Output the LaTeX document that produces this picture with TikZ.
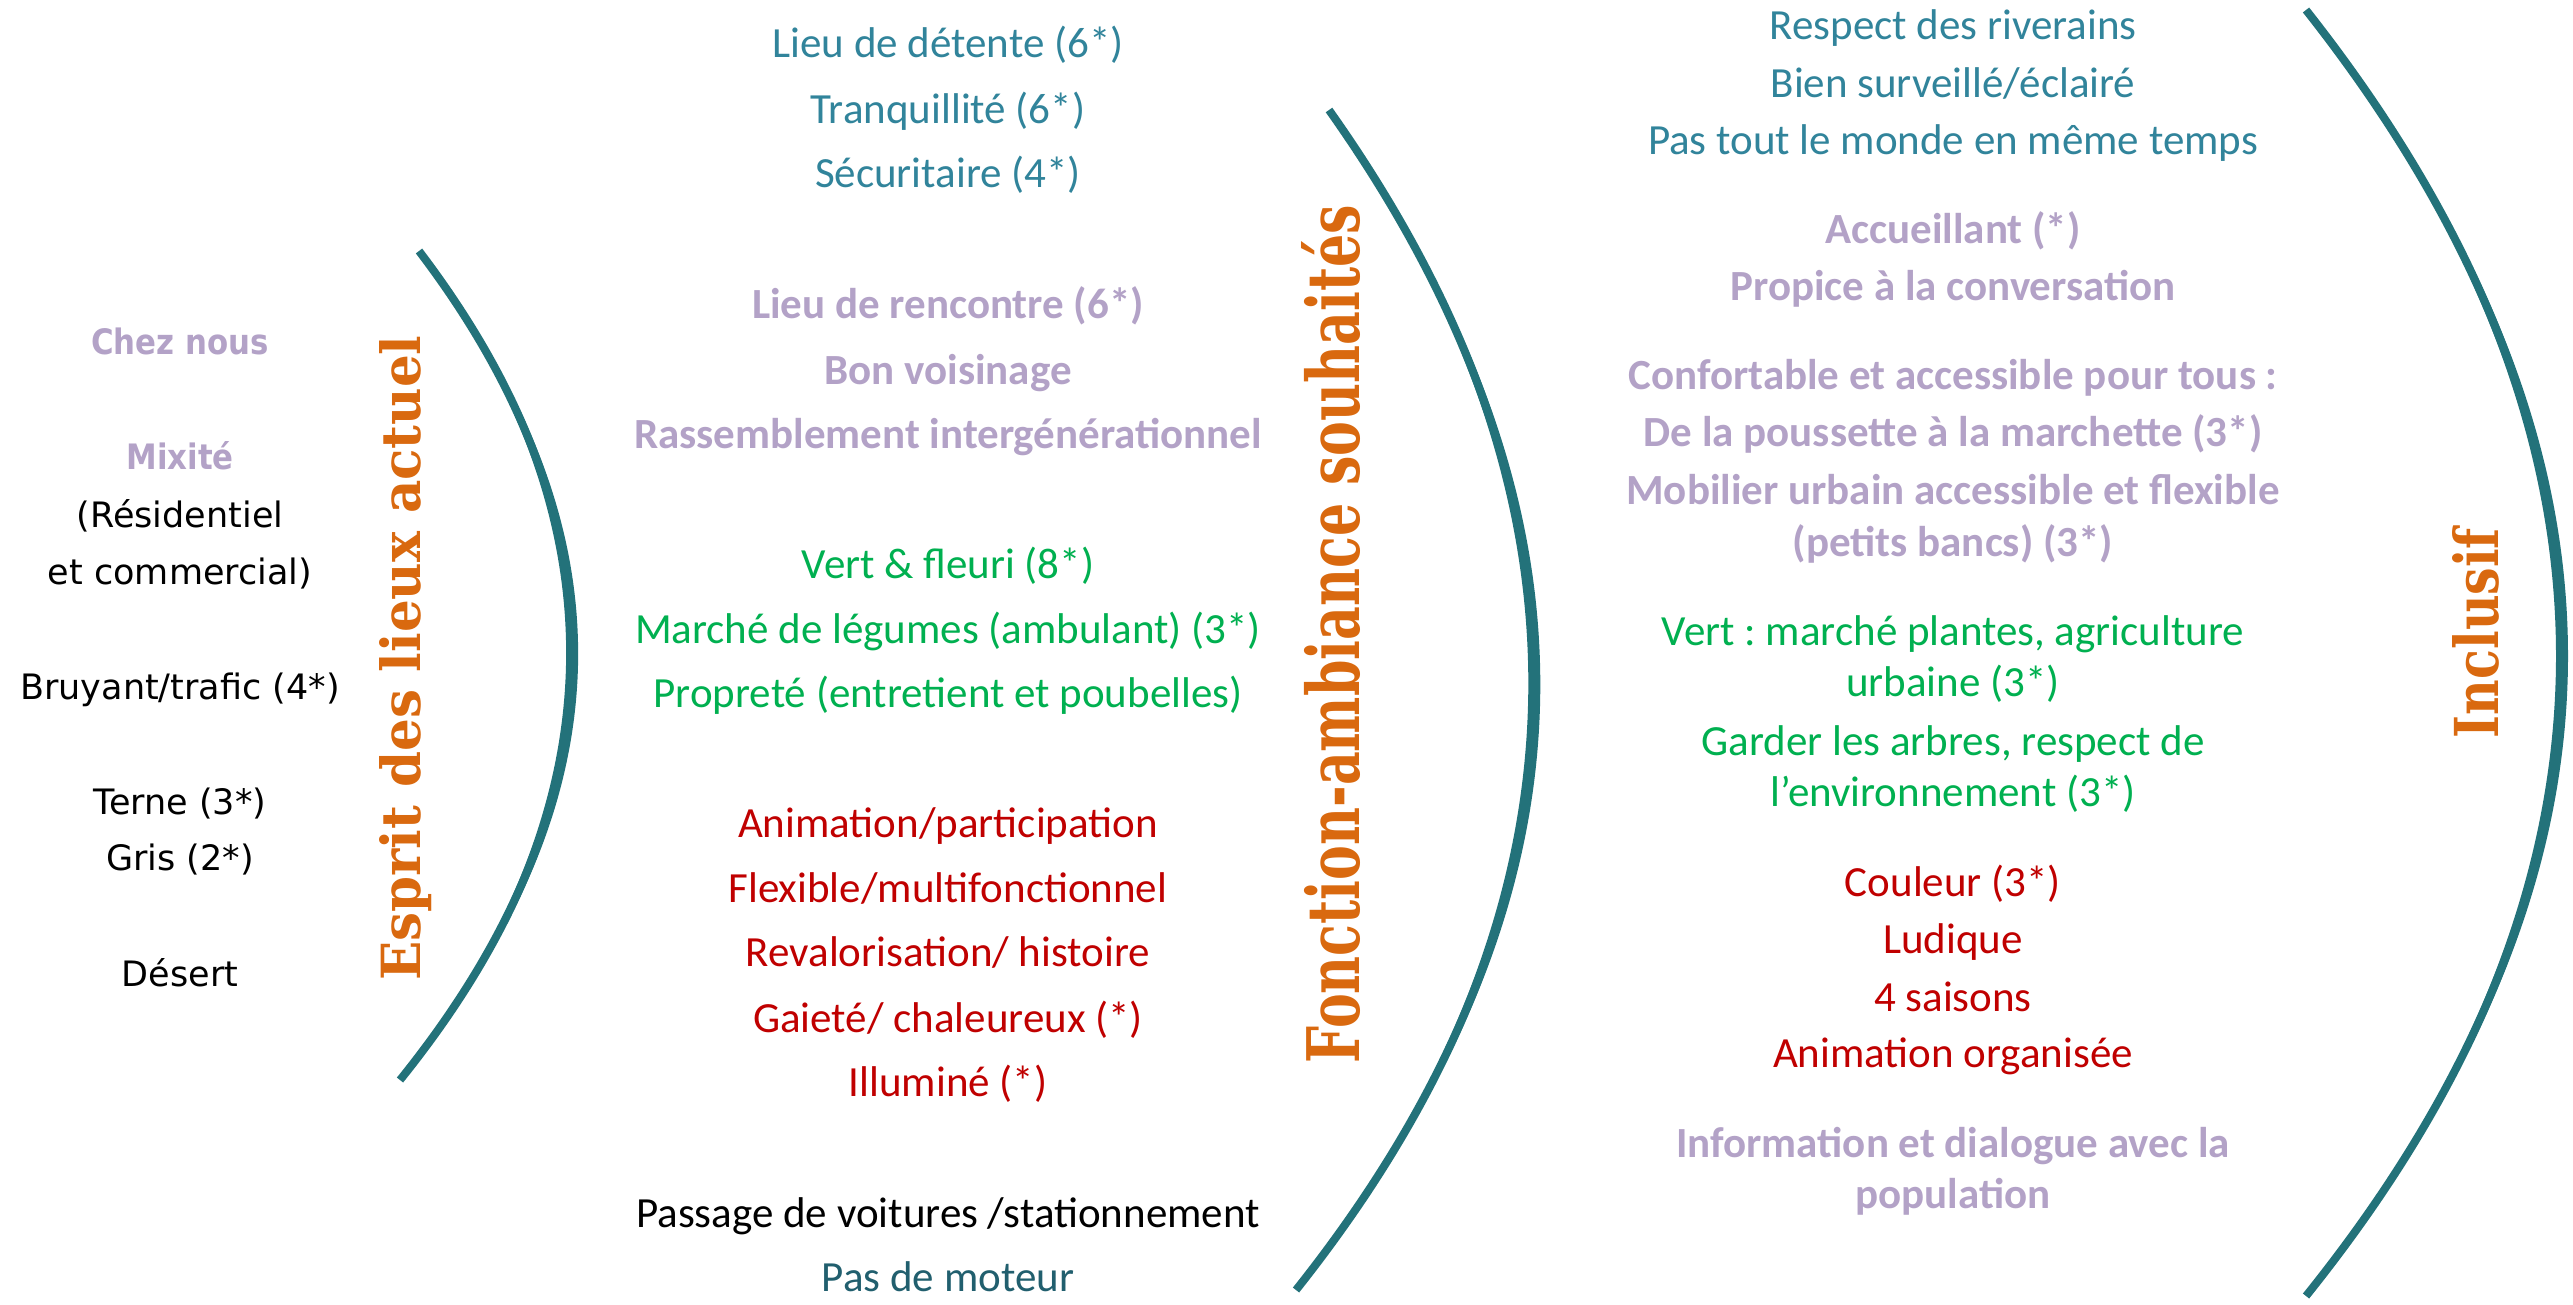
\documentclass[tikz,border=0pt]{standalone}
\usepackage{fontspec}
\setmainfont{Carlito}
\newfontfamily\leftfont{DejaVu Sans}
\newfontfamily\titlefont{DejaVu Serif}
\usetikzlibrary{calc}
\frenchspacing
\definecolor{tealtxt}{HTML}{31849B}
\definecolor{darkteal}{HTML}{215F6E}
\definecolor{lilac}{HTML}{B3A2C7}
\definecolor{grn}{HTML}{00B050}
\definecolor{redtxt}{HTML}{C00000}
\definecolor{arccol}{HTML}{23727A}
\definecolor{titleor}{HTML}{D9690F}
\newcommand\narrowbold[1]{\scalebox{0.88}[1]{#1}}
\tikzset{
 mtxt/.style={anchor=mid, inner sep=0pt, font=\fontsize{43}{50}\selectfont},
 mbold/.style={mtxt, font=\bfseries\fontsize{43}{50}\selectfont, text=lilac},
 ltxt/.style={anchor=mid, inner sep=0pt, font=\leftfont\fontsize{35}{42}\selectfont},
 lbold/.style={ltxt, font=\leftfont\bfseries\fontsize{35}{42}\selectfont, text=lilac},
 vtitle/.style={rotate=90, inner sep=0pt, text=titleor, font=\titlefont\bfseries},
 arcline/.style={draw=arccol, line width=8pt},
 arcfill/.style={fill=arccol},
}
\begin{document}
\begin{tikzpicture}[x=1pt,y=-1pt]
\fill[white] (0,0) rectangle (2573,1304);
\useasboundingbox (0,0) rectangle (2573,1304);

% arcs
\coordinate (a1t) at (419,251); \coordinate (a1b) at (400,1080);
\coordinate (a1c) at (734.5,665.5); \coordinate (a1o) at (746.5,665.5); \coordinate (a1i) at (722.5,665.5);
\coordinate (a2t) at (1329,110); \coordinate (a2b) at (1296,1290);
\coordinate (a2c) at (1755.5,712); \coordinate (a2o) at (1767.5,712); \coordinate (a2i) at (1743.5,712);
\coordinate (a3t) at (2306,10); \coordinate (a3b) at (2306,1296);
\coordinate (a3c) at (2818,659); \coordinate (a3o) at (2830,659); \coordinate (a3i) at (2806,659);
\foreach \a in {a1,a2,a3}{
 \draw[arcline] (\a t) .. controls ($(\a t)!2/3!(\a c)$) and ($(\a b)!2/3!(\a c)$) .. (\a b);
 \fill[arcfill] (\a t) .. controls ($(\a t)!2/3!(\a o)$) and ($(\a b)!2/3!(\a o)$) .. (\a b)
   .. controls ($(\a b)!2/3!(\a i)$) and ($(\a t)!2/3!(\a i)$) .. (\a t) -- cycle;
}

% titles
\node[vtitle] (t1) at (406,658) {\resizebox{645pt}{41pt}{Esprit des lieux actuel}};
\node[vtitle] (t2) at (1331,634) {\resizebox{858pt}{58pt}{Fonction-ambiance souhaités}};
\node[vtitle] (t3) at (2476,633) {\resizebox{210pt}{46pt}{Inclusif}};

% left column
\node[lbold] (l1) at (180,352) {\narrowbold{Chez nous}};
\node[lbold] (l2) at (180,467) {\narrowbold{Mixité}};
\node[ltxt] (l3) at (180,525) {(Résidentiel};
\node[ltxt] (l4) at (180,582) {et commercial)};
\node[ltxt] (l5) at (180,697) {Bruyant/trafic (4*)};
\node[ltxt] (l6) at (180,812) {Terne (3*)};
\node[ltxt] (l7) at (180,868) {Gris (2*)};
\node[ltxt] (l8) at (180,984) {Désert};

% middle column
\node[mtxt, text=tealtxt] (m1) at (948,55) {Lieu de détente (6*)};
\node[mtxt, text=tealtxt] (m2) at (948,121) {Tranquillité (6*)};
\node[mtxt, text=tealtxt] (m3) at (948,185) {Sécuritaire (4*)};
\node[mbold] (m4) at (948,316) {Lieu de rencontre (6*)};
\node[mbold] (m5) at (948,382) {Bon voisinage};
\node[mbold] (m6) at (948,446) {Rassemblement intergénérationnel};
\node[mtxt, text=grn] (m7) at (948,576) {Vert \& fleuri (8*)};
\node[mtxt, text=grn] (m8) at (948,641) {Marché de légumes (ambulant) (3*)};
\node[mtxt, text=grn] (m9) at (948,705) {Propreté (entretient et poubelles)};
\node[mtxt, text=redtxt] (m10) at (948,835) {Animation/participation};
\node[mtxt, text=redtxt] (m11) at (948,900) {Flexible/multifonctionnel};
\node[mtxt, text=redtxt] (m12) at (948,964) {Revalorisation/ histoire};
\node[mtxt, text=redtxt] (m13) at (948,1030) {Gaieté/ chaleureux (*)};
\node[mtxt, text=redtxt] (m14) at (948,1094) {Illuminé (*)};
\node[mtxt, text=black] (m15) at (948,1225) {Passage de voitures /stationnement};
\node[mtxt, text=darkteal] (m16) at (948,1289) {Pas de moteur};

% right column
\node[mtxt, text=tealtxt] (r1) at (1953,37) {Respect des riverains};
\node[mtxt, text=tealtxt] (r2) at (1953,95) {Bien surveillé/éclairé};
\node[mtxt, text=tealtxt] (r3) at (1953,152) {Pas tout le monde en même temps};
\node[mbold] (r4) at (1953,241) {Accueillant (*)};
\node[mbold] (r5) at (1953,298) {Propice à la conversation};
\node[mbold] (r6) at (1953,387) {Confortable et accessible pour tous :};
\node[mbold] (r7) at (1953,444) {De la poussette à la marchette (3*)};
\node[mbold] (r8) at (1953,502) {Mobilier urbain accessible et flexible};
\node[mbold] (r9) at (1953,554) {(petits bancs) (3*)};
\node[mtxt, text=grn] (r10) at (1953,643) {Vert : marché plantes, agriculture};
\node[mtxt, text=grn] (r11) at (1953,694) {urbaine (3*)};
\node[mtxt, text=grn] (r12) at (1953,753) {Garder les arbres, respect de};
\node[mtxt, text=grn] (r13) at (1953,804) {l’environnement (3*)};
\node[mtxt, text=redtxt] (r14) at (1953,894) {Couleur (3*)};
\node[mtxt, text=redtxt] (r15) at (1953,951) {Ludique};
\node[mtxt, text=redtxt] (r16) at (1953,1009) {4 saisons};
\node[mtxt, text=redtxt] (r17) at (1953,1065) {Animation organisée};
\node[mbold] (r18) at (1953,1155) {Information et dialogue avec la};
\node[mbold] (r19) at (1953,1206) {population};
\end{tikzpicture}
\end{document}
